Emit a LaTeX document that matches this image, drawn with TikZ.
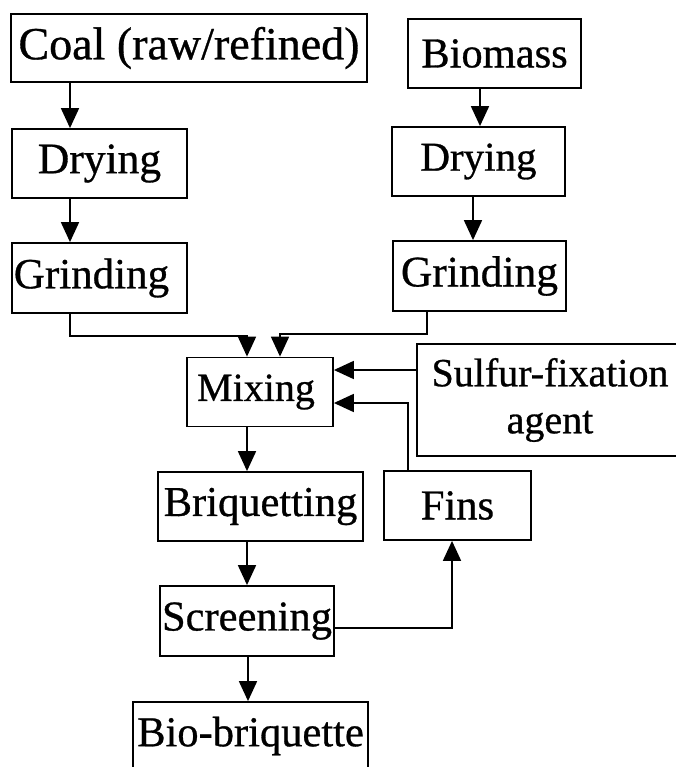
\documentclass[tikz,border=0pt]{standalone}
\usepackage{fontspec}
\setmainfont{Liberation Serif}[UprightFeatures={FakeBold=0.7}]
\usetikzlibrary{arrows.meta}
\tikzset{
  box/.style={draw=black, line width=1.8pt, inner sep=0pt, rectangle,
    font=\fontsize{42.5}{47}\selectfont, align=center},
  arr/.style={draw=black, line width=1.8pt, -{Triangle[length=20pt,width=18pt]}},
}
\begin{document}
\begin{tikzpicture}[x=1pt,y=-1pt]
\useasboundingbox[fill=white] (0,0) rectangle (676,767);
% boxes
\node[box, minimum width=356pt, minimum height=68pt, font=\fontsize{46}{50}\selectfont] (coal) at (189,48) {Coal (raw/refined)};
\node[box, minimum width=173pt, minimum height=69pt] (bio) at (494.5,53.5) {Biomass};
\node[box, minimum width=175pt, minimum height=69pt, font=\fontsize{43.5}{48}\selectfont] (dryL) at (99.5,163.5) {Drying};
\node[box, minimum width=173pt, minimum height=69pt, font=\fontsize{41}{46}\selectfont] (dryR) at (478.5,161.5) {Drying};
\node[box, minimum width=175pt, minimum height=70pt, font=\fontsize{43}{48}\selectfont] (grL) at (99.5,278) {\hspace*{-16pt}Grinding};
\node[box, minimum width=173pt, minimum height=70pt, font=\fontsize{43.5}{48}\selectfont] (grR) at (479.5,276) {Grinding};
\node[box, minimum width=146pt, minimum height=69pt, font=\fontsize{40}{45}\selectfont] (mix) at (260,392) {\hspace*{-8pt}Mixing};
\node[box, minimum width=266pt, minimum height=112pt, font=\fontsize{40}{47}\selectfont] (sulf) at (550,400) {Sulfur-fixation\\agent};
\node[box, minimum width=205pt, minimum height=69pt] (briq) at (260.5,506.5) {Briquetting};
\node[box, minimum width=147pt, minimum height=69pt] (fins) at (457.5,505.5) {Fins};
\node[box, minimum width=174pt, minimum height=70pt] (scr) at (247,621) {Screening};
\node[box, minimum width=235pt, minimum height=68pt] (biob) at (250.5,736) {Bio-briquette};
% helper coordinates
\coordinate (m1) at ([yshift=22pt]mix.east);
\coordinate (m2) at ([yshift=-11pt]mix.east);
% connectors
\draw[arr] ([xshift=-29.5pt]dryL.north |- coal.south) -- ([xshift=-29.5pt]dryL.north);
\draw[arr] ([xshift=-29.5pt]dryL.south) -- ([xshift=-29.5pt]grL.north);
\draw[arr] ([xshift=1.5pt]dryR.north |- bio.south) -- ([xshift=1.5pt]dryR.north);
\draw[arr] ([xshift=-5.5pt]dryR.south) -- ([xshift=-6.5pt]grR.north);
\draw[arr] ([xshift=-29.5pt]grL.south) -- ++(0,22) -| ([xshift=-13pt]mix.north);
\draw[arr] ([xshift=-52.5pt]grR.south) -- ++(0,22) -| ([xshift=20pt]mix.north);
\draw[arr] (m1 -| sulf.west) -- (m1);
\draw[arr] ([xshift=-49.5pt]fins.north) |- (m2);
\draw[arr] ([xshift=-13pt]mix.south) -- ([xshift=-13.5pt]briq.north);
\draw[arr] ([xshift=0pt]scr.north |- briq.south) -- (scr.north);
\draw[arr] ([xshift=1pt]scr.south) -- ([xshift=-2.5pt]biob.north);
\draw[arr] ([yshift=-7pt]scr.east) -| ([xshift=-5.5pt]fins.south);
\end{tikzpicture}
\end{document}
